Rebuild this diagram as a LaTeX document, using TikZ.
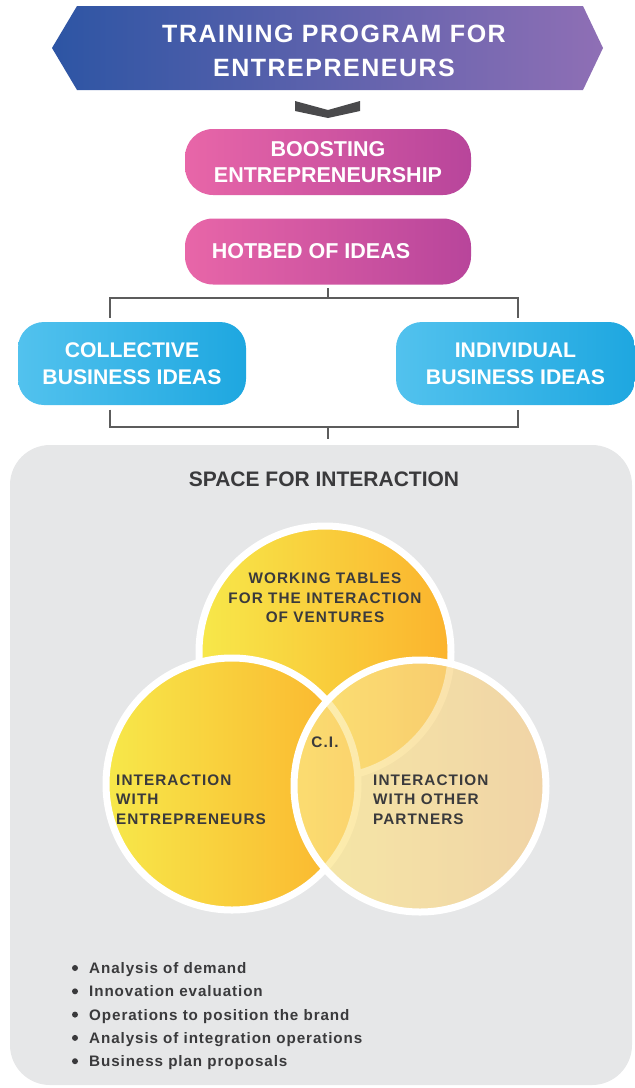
\documentclass[tikz,border=0pt]{standalone}
\usepackage{fontspec}
\setmainfont{Liberation Sans}
\newfontfamily\bannerfont{Liberation Sans}[LetterSpace=6]
\newfontfamily\circfont{Liberation Sans}[LetterSpace=7]
\newfontfamily\listfont{Liberation Sans}[LetterSpace=6]
\definecolor{bannerL}{HTML}{2D55A4}
\definecolor{bannerR}{HTML}{8F6FB5}
\definecolor{chev}{HTML}{4A4A4C}
\definecolor{pinkL}{HTML}{E866A8}
\definecolor{pinkR}{HTML}{B8459B}
\definecolor{blueL}{HTML}{52C2EE}
\definecolor{blueR}{HTML}{1EA7E0}
\definecolor{panelC}{HTML}{E6E7E8}
\definecolor{darkT}{HTML}{3A3A3C}
\definecolor{connC}{HTML}{5C5C5C}
\definecolor{yelL}{HTML}{F7E84A}
\definecolor{yelR}{HTML}{FBB32D}
\definecolor{paleL}{HTML}{FCE98A}
\definecolor{paleR}{HTML}{F6CC8A}
\begin{document}
\begin{tikzpicture}[x=1pt,y=-1pt,
  pinkbox/.style={rounded corners=28pt, left color=pinkL, right color=pinkR,
    minimum width=286pt, minimum height=66pt, text=white, inner sep=0pt, outer sep=3.5pt,
    align=center, font={\fontsize{21.5}{26}\selectfont\bfseries}},
  bluebox/.style={rounded corners=26pt, left color=blueL, right color=blueR,
    minimum width=228pt, minimum height=83pt, text=white, inner sep=0pt, outer sep=4.5pt,
    align=center, font={\fontsize{21.2}{27}\selectfont\bfseries}},
  conn/.style={draw=connC, line width=1.3pt},
  circ/.style={circle, minimum size=252pt, inner sep=0pt, draw=white, line width=7pt},
  ctext/.style={text=darkT, inner sep=0pt, font={\circfont\fontsize{15.3}{19.5}\selectfont\bfseries}},
  listtext/.style={text=darkT, inner sep=0pt, font={\listfont\fontsize{15.2}{18}\selectfont\bfseries}}
]
\useasboundingbox (0,0) rectangle (635,1088);
% banner
\shade[left color=bannerL, right color=bannerR] (52,48) -- (77,6) -- (583,6) -- (603,48) -- (583,90) -- (77,90) -- cycle;
\node[text=white, inner sep=0pt, align=center, font={\bannerfont\fontsize{25}{34}\selectfont\bfseries}] (title) at (334,51) {TRAINING PROGRAM FOR\\ENTREPRENEURS};
% chevron
\fill[chev] (295,101) -- (328,110) -- (360,101) -- (360,111) -- (328,118) -- (295,111) -- cycle;
% boxes
\node[pinkbox] (boost) at (328,162) {BOOSTING\\ENTREPRENEURSHIP};
\node[pinkbox] (hotbed) at (328,251.5) {HOTBED OF IDEAS\hspace*{34pt}};
\node[bluebox] (coll) at (132,363.5) {COLLECTIVE\\BUSINESS IDEAS};
\node[bluebox, minimum width=239pt] (indiv) at (515.5,363.5) {INDIVIDUAL\\BUSINESS IDEAS};
% panel
\node[rectangle, rounded corners=40pt, fill=panelC, minimum width=622pt, minimum height=640pt, inner sep=0pt, outer sep=6pt] (space) at (321,765) {};
\node[text=darkT, inner sep=0pt, font={\fontsize{21}{25}\selectfont\bfseries}] (spacetitle) at (324,479) {SPACE FOR INTERACTION};
% connectors
\coordinate (tl) at (110,298);
\coordinate (tr) at (518,298);
\coordinate (bl) at (110,427);
\coordinate (br) at (518,427);
\draw[conn] (hotbed.south) -- (hotbed.south |- tl);
\draw[conn] (coll.north -| tl) -- (tl) -- (tr) -- (indiv.north -| tr);
\draw[conn] (coll.south -| bl) -- (bl) -- (br) -- (indiv.south -| br);
\draw[conn] (hotbed.south |- bl) -- (hotbed.south |- space.north);
% circles
\node[circ, left color=yelL, right color=yelR] (ctop) at (325,652) {};
\node[circ, left color=yelL, right color=yelR] (cleft) at (232,784) {};
\node[circ, left color=paleL, right color=paleR, fill opacity=0.7, draw opacity=1] (cright) at (420,786) {};
% circle texts
\node[ctext, align=center] (tWT) at (325,598) {WORKING TABLES\\FOR THE INTERACTION\\OF VENTURES};
\node[ctext, align=left, anchor=west] (tIE) at (116,799.5) {INTERACTION\\WITH\\ENTREPRENEURS};
\node[ctext, align=left, anchor=west] (tIO) at (373,799.5) {INTERACTION\\WITH OTHER\\PARTNERS};
\node[ctext] (tCI) at (325,742) {C.I.};
% list
\foreach \t [count=\i from 0] in {Analysis of demand, Innovation evaluation, Operations to position the brand, Analysis of integration operations, Business plan proposals} {
  \node[listtext, anchor=base west] (b\i) at (89,{973.5+23.3*\i}) {\t};
  \fill[darkT] (75,{968+23.3*\i}) circle (3);
}
\end{tikzpicture}
\end{document}
